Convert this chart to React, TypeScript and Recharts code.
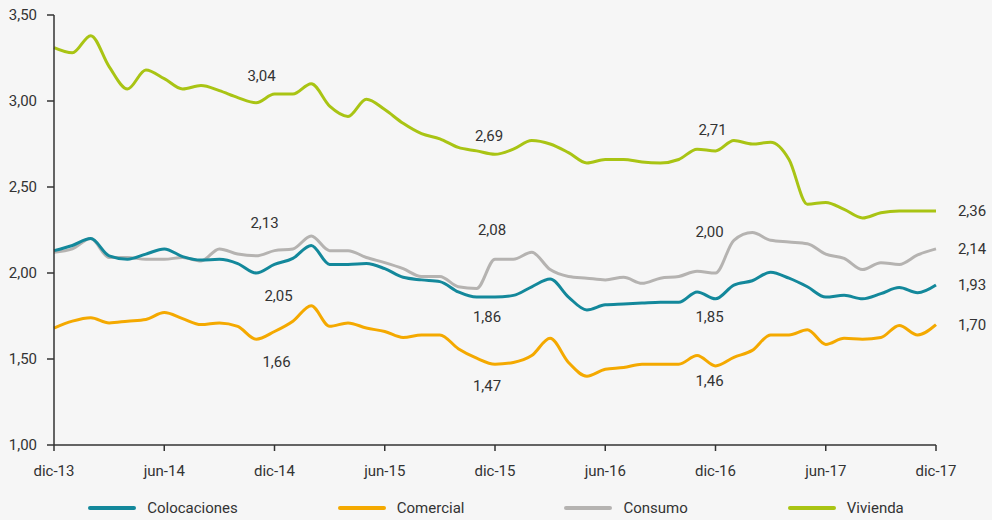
import { LineChart, Line, XAxis, YAxis, LabelList } from "recharts";

const months = [
  "dic-13", "ene-14", "feb-14", "mar-14", "abr-14", "may-14", "jun-14", "jul-14", "ago-14", "sep-14", "oct-14", "nov-14",
  "dic-14", "ene-15", "feb-15", "mar-15", "abr-15", "may-15", "jun-15", "jul-15", "ago-15", "sep-15", "oct-15", "nov-15",
  "dic-15", "ene-16", "feb-16", "mar-16", "abr-16", "may-16", "jun-16", "jul-16", "ago-16", "sep-16", "oct-16", "nov-16",
  "dic-16", "ene-17", "feb-17", "mar-17", "abr-17", "may-17", "jun-17", "jul-17", "ago-17", "sep-17", "oct-17", "nov-17",
  "dic-17",
];

const colocaciones = [
  2.13, 2.16, 2.2, 2.1, 2.08, 2.11, 2.14, 2.095, 2.075, 2.08, 2.055, 2.0,
  2.05, 2.085, 2.16, 2.05, 2.05, 2.055, 2.025, 1.975, 1.96, 1.95, 1.89, 1.86,
  1.86, 1.87, 1.92, 1.965, 1.86, 1.785, 1.815, 1.82, 1.825, 1.83, 1.83, 1.89,
  1.85, 1.93, 1.955, 2.005, 1.97, 1.92, 1.86, 1.87, 1.85, 1.88, 1.915, 1.885,
  1.93,
];

const comercial = [
  1.68, 1.72, 1.74, 1.71, 1.72, 1.73, 1.77, 1.735, 1.7, 1.71, 1.69, 1.615,
  1.66, 1.72, 1.81, 1.69, 1.71, 1.68, 1.66, 1.625, 1.64, 1.64, 1.56, 1.505,
  1.47, 1.48, 1.52, 1.62, 1.48, 1.4, 1.44, 1.45, 1.47, 1.47, 1.47, 1.52,
  1.46, 1.51, 1.55, 1.64, 1.64, 1.67, 1.585, 1.62, 1.615, 1.625, 1.695, 1.64,
  1.7,
];

const consumo = [
  2.12, 2.14, 2.2, 2.09, 2.09, 2.08, 2.08, 2.09, 2.07, 2.14, 2.11, 2.1,
  2.13, 2.14, 2.215, 2.13, 2.13, 2.09, 2.06, 2.025, 1.98, 1.98, 1.92, 1.91,
  2.08, 2.08, 2.12, 2.02, 1.98, 1.97, 1.96, 1.975, 1.94, 1.97, 1.98, 2.01,
  2.0, 2.19, 2.235, 2.19, 2.18, 2.17, 2.11, 2.085, 2.02, 2.06, 2.05, 2.105,
  2.14,
];

const vivienda = [
  3.31, 3.28, 3.38, 3.2, 3.07, 3.18, 3.13, 3.07, 3.09, 3.06, 3.02, 2.99,
  3.04, 3.04, 3.1, 2.97, 2.91, 3.01, 2.95, 2.87, 2.81, 2.78, 2.73, 2.71,
  2.69, 2.72, 2.77, 2.75, 2.7, 2.64, 2.66, 2.66, 2.645, 2.64, 2.66, 2.72,
  2.71, 2.77, 2.75, 2.76, 2.66, 2.4, 2.41, 2.37, 2.32, 2.35, 2.36, 2.36,
  2.36,
];

const yTicks = [1, 1.5, 2, 2.5, 3, 3.5];

const chartData = months.map((month, i) => ({
  month,
  colocaciones: colocaciones[i],
  comercial: comercial[i],
  consumo: consumo[i],
  vivienda: vivienda[i],
}));

const series = [
  { key: "consumo", name: "Consumo", color: "#b5b3b1" },
  { key: "colocaciones", name: "Colocaciones", color: "#13889b" },
  { key: "comercial", name: "Comercial", color: "#f4a900" },
  { key: "vivienda", name: "Vivienda", color: "#a9c414" },
];

const legendOrder = ["colocaciones", "comercial", "consumo", "vivienda"];

// index -> [dx, dy] for value labels
const labelSpots: Record<string, Record<number, [number, number]>> = {
  vivienda: { 12: [-13, -18], 24: [-6, -18], 36: [-3, -21], 48: [36, 0] },
  consumo: { 12: [-10, -28], 24: [-3, -29], 36: [-6, -41], 48: [36, 0] },
  colocaciones: { 12: [4, 32], 24: [-8, 20], 36: [-6, 18], 48: [36, 0] },
  comercial: { 12: [2, 31], 24: [-8, 22], 36: [-6, 15], 48: [36, 0] },
};

const font = "Roboto, sans-serif";
const fmt = (v: number) => v.toFixed(2).replace(".", ",");

function makeLabel(key: string) {
  return (props: any) => {
    const spot = labelSpots[key][props.index];
    if (!spot) return null;
    return (
      <text
        x={props.x + spot[0]}
        y={props.y + spot[1]}
        textAnchor="middle"
        dominantBaseline="central"
        fontFamily={font}
        fontSize={15}
        fill="#333"
      >
        {fmt(Number(props.value))}
      </text>
    );
  };
}

export default function App() {
  return (
    <div
      style={{
        position: "absolute",
        left: 0,
        top: 0,
        width: 992,
        height: 520,
        background: "#f6f6f6",
        fontFamily: font,
      }}
    >
      <LineChart
        width={992}
        height={520}
        data={chartData}
        margin={{ top: 15, right: 56, left: 0, bottom: 45 }}
      >
        <XAxis
          dataKey="month"
          interval={5}
          tickSize={6}
          tickMargin={14}
          stroke="#333"
          strokeWidth={1.5}
          tick={{ fill: "#333", fontSize: 15, fontFamily: font }}
        />
        <YAxis
          width={54}
          domain={[1, 3.5]}
          ticks={yTicks}
          tickFormatter={fmt}
          tickSize={7}
          tickMargin={10}
          stroke="#333"
          strokeWidth={1.5}
          tick={{ fill: "#333", fontSize: 15, fontFamily: font }}
        />
        {series.map((s) => (
          <Line
            key={s.key}
            type="monotone"
            dataKey={s.key}
            name={s.name}
            stroke={s.color}
            strokeWidth={3}
            dot={false}
            isAnimationActive={false}
          >
            <LabelList dataKey={s.key} content={makeLabel(s.key)} />
          </Line>
        ))}
      </LineChart>
      <div
        style={{
          position: "absolute",
          left: 0,
          top: 499,
          width: 992,
          display: "flex",
          justifyContent: "center",
          gap: 100,
          fontSize: 15,
          color: "#333",
        }}
      >
        {legendOrder.map((k) => {
          const s = series.find((x) => x.key === k)!;
          return (
            <div key={k} style={{ display: "flex", alignItems: "center" }}>
              <span
                style={{
                  display: "inline-block",
                  width: 48,
                  height: 4.5,
                  borderRadius: 3,
                  background: s.color,
                  marginRight: 11,
                }}
              />
              <span>{s.name}</span>
            </div>
          );
        })}
      </div>
    </div>
  );
}
